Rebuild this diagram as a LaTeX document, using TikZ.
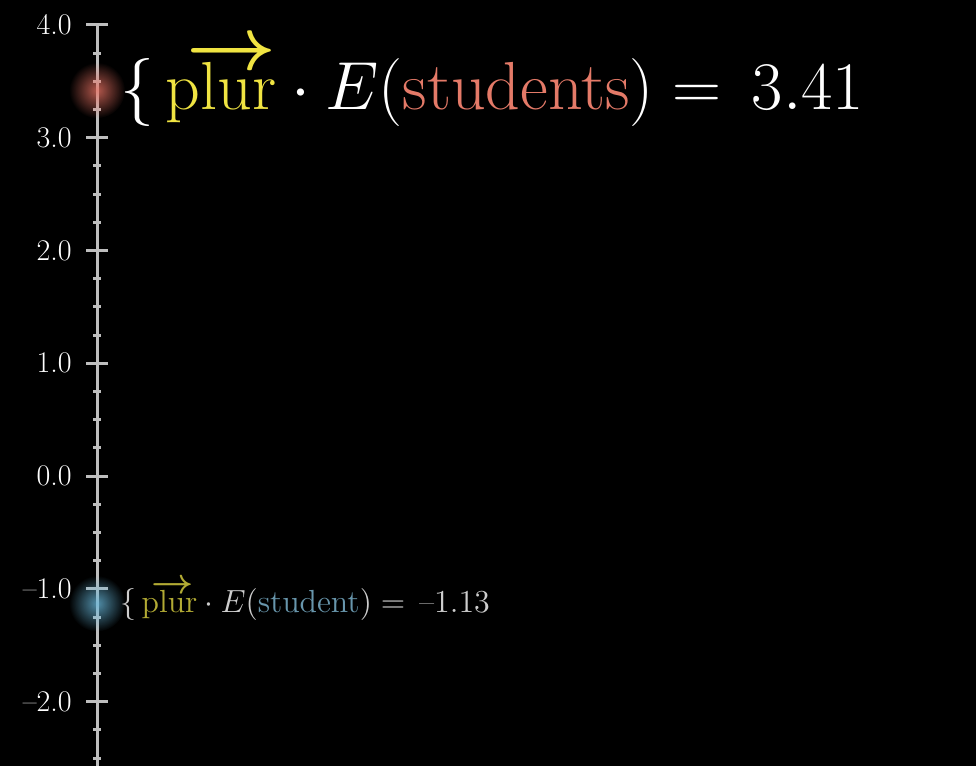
\RequirePackage{fix-cm}
\documentclass[tikz,border=0pt]{standalone}
\usepackage{amsmath,amssymb}
\usepackage{graphicx}
\usepackage{mathtools}
\usepackage{xcolor}
\usepackage{tikz}
\usetikzlibrary{positioning,fadings}

\definecolor{plurY}{RGB}{240,228,66}
\definecolor{plurYdim}{RGB}{178,170,52}
\definecolor{studRed}{RGB}{228,122,104}
\definecolor{studBlue}{RGB}{104,150,172}
\definecolor{axisGray}{RGB}{190,190,190}
\definecolor{dimWhite}{RGB}{205,205,205}
\definecolor{glowRed}{RGB}{235,115,100}
\definecolor{glowBlue}{RGB}{105,185,220}

\tikzfading[name=glowfade, inner color=transparent!15, outer color=transparent!100]

% word with a heavy arrow over it
\newcommand{\plurvec}[1]{\mathrlap{\kern0.3em\raisebox{0.59em}{%
  \scalebox{1.15}[1.1]{$\boldsymbol{\rightarrow}$}}}\mathrm{#1}}

\begin{document}
\begin{tikzpicture}[
  x=0.5pt, y=56.4pt,
  axisline/.style={draw=axisGray, line width=1.5pt},
  ticklbl/.style={anchor=east, inner sep=0pt, text=white,
    font=\fontsize{15}{17}\selectfont},
  glow/.style={fill=#1, path fading=glowfade},
  bigeq/.style={anchor=base west, inner sep=0pt, text=white,
    font=\fontsize{34}{38}\selectfont},
  smalleq/.style={anchor=base west, inner sep=0pt, text=dimWhite,
    font=\fontsize{16}{18}\selectfont}
]
\fill[black] (0,-2.571) rectangle (976,4.220);
% number line
\coordinate (top) at (97,4);
\coordinate (bot) at (97,-2.571);
\draw[axisline] (bot) -- (top);
\foreach \v in {-2.5,-2.25,...,3.8}
  \draw[axisline] (93,\v) -- (101,\v);
\foreach \v/\t in {-2/--2.0,-1/--1.0,0/0.0,1/1.0,2/2.0,3/3.0,4/4.0}{
  \draw[axisline] (86,\v) -- (108,\v);
  \node[ticklbl] (lbl\v) at (72,\v) {\t};
}
% glowing points
\coordinate (pRed) at (97,3.42);
\coordinate (pBlue) at (97,-1.13);
\fill[glow=glowRed, opacity=0.9] (pRed) circle[radius=14pt];
\fill[glow=glowBlue, opacity=0.9] (pBlue) circle[radius=14pt];
% equations
\node[bigeq] (eqRed) at (120,3.245)
  {$\{\,\textcolor{plurY}{\plurvec{plur}}\cdot
    E(\textcolor{studRed}{\mathrm{students}})=\,3.41$};
\node[smalleq] (eqBlue) at (120,-1.206)
  {$\{\,\textcolor{plurYdim}{\plurvec{plur}}\cdot
    E(\textcolor{studBlue}{\mathrm{student}})=\,\text{--}1.13$};
\end{tikzpicture}
\end{document}
